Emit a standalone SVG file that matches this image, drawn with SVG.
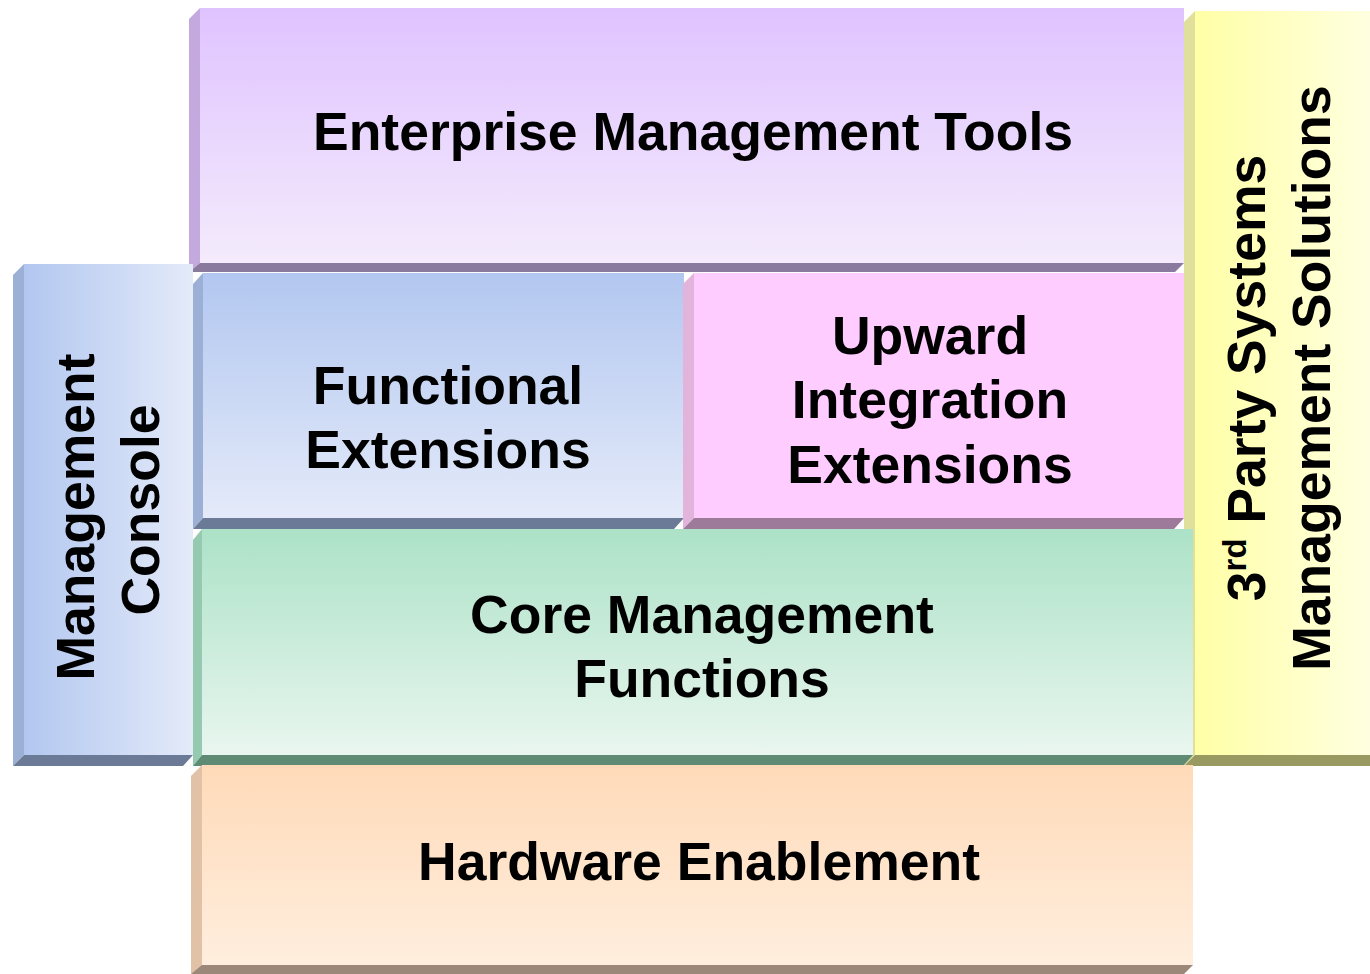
<svg xmlns="http://www.w3.org/2000/svg" width="1370" height="974" viewBox="0 0 1370 974">
<defs>
<linearGradient id="gEnt" x1="0" y1="0" x2="0" y2="1"><stop offset="0" stop-color="#DFC3FF"/><stop offset="1" stop-color="#F4EBFC"/></linearGradient>
<linearGradient id="gFun" x1="0" y1="0" x2="0" y2="1"><stop offset="0" stop-color="#B2C7F0"/><stop offset="1" stop-color="#E4EAF9"/></linearGradient>
<linearGradient id="gUp" x1="0" y1="0" x2="0" y2="1"><stop offset="0" stop-color="#FFCCFF"/><stop offset="1" stop-color="#FFCCFF"/></linearGradient>
<linearGradient id="gCore" x1="0" y1="0" x2="0" y2="1"><stop offset="0" stop-color="#ACE2C7"/><stop offset="1" stop-color="#E9F6EF"/></linearGradient>
<linearGradient id="gHw" x1="0" y1="0" x2="0" y2="1"><stop offset="0" stop-color="#FFDAB8"/><stop offset="1" stop-color="#FFEEDE"/></linearGradient>
<linearGradient id="gCon" x1="0" y1="0" x2="1" y2="0"><stop offset="0" stop-color="#B2C7F0"/><stop offset="1" stop-color="#E4EAF9"/></linearGradient>
<linearGradient id="g3rd" x1="0" y1="0" x2="1" y2="0"><stop offset="0" stop-color="#FFFFA6"/><stop offset="1" stop-color="#FFFFE0"/></linearGradient>
</defs>
<style>
text{font-family:"Liberation Sans",Arial,sans-serif;font-weight:bold;font-size:53.5px;fill:#000;text-anchor:middle}
</style>

<g id="enterprise">
<polygon points="189,19 200,8 200,263 189,272" fill="#C4A9DE"/>
<polygon points="189,272 200,263 1184,263 1175,272" fill="#8A7A9E"/>
<rect x="200" y="8" width="984" height="255" fill="url(#gEnt)"/>
<text x="693" y="150">Enterprise Management Tools</text>
</g>

<g id="third-party">
<polygon points="1184,22 1195,11 1195,755 1184,766" fill="#E0E09C"/>
<polygon points="1184,766 1195,755 1370,755 1370,766" fill="#999962"/>
<rect x="1195" y="11" width="175" height="744" fill="url(#g3rd)"/>
<text transform="translate(1265,378) rotate(-90)">3<tspan font-size="33" dy="-19">rd</tspan><tspan dy="19"> Party Systems</tspan></text>
<text transform="translate(1330,378) rotate(-90)">Management Solutions</text>
</g>

<g id="console">
<polygon points="13,275 24,264 24,755 13,766" fill="#9CB0D6"/>
<polygon points="13,766 24,755 193,755 183,766" fill="#6B7A96"/>
<rect x="24" y="264" width="169" height="491" fill="url(#gCon)"/>
<text transform="translate(94,517) rotate(-90)">Management</text>
<text transform="translate(159,510) rotate(-90)">Console</text>
</g>

<g id="functional">
<polygon points="193,284 203,273 203,518 193,529" fill="#9CB0D6"/>
<polygon points="193,529 203,518 684,518 674,529" fill="#6B7A96"/>
<rect x="203" y="273" width="481" height="245" fill="url(#gFun)"/>
<text x="448" y="404">Functional</text>
<text x="448" y="468">Extensions</text>
</g>

<g id="upward">
<polygon points="683,284 694,273 694,518 683,529" fill="#E2B4DC"/>
<polygon points="683,529 694,518 1184,518 1174,529" fill="#9D7A9A"/>
<rect x="694" y="273" width="490" height="245" fill="url(#gUp)"/>
<text x="930" y="354">Upward</text>
<text x="930" y="418">Integration</text>
<text x="930" y="483">Extensions</text>
</g>

<g id="core">
<polygon points="193,540 202,529 202,755 193,766" fill="#96CAB0"/>
<polygon points="193,766 202,755 1193,755 1183,766" fill="#5F8A73"/>
<rect x="202" y="529" width="991" height="226" fill="url(#gCore)"/>
<text x="702" y="633">Core Management</text>
<text x="702" y="697">Functions</text>
</g>

<g id="hardware">
<polygon points="191,776 202,765 202,967 191,974" fill="#E2C2A6"/>
<polygon points="191,974 202,965 1193,965 1184,974" fill="#9B8878"/>
<rect x="202" y="765" width="991" height="200" fill="url(#gHw)"/>
<text x="699" y="880">Hardware Enablement</text>
</g>

<g id="connectors"/>
</svg>
